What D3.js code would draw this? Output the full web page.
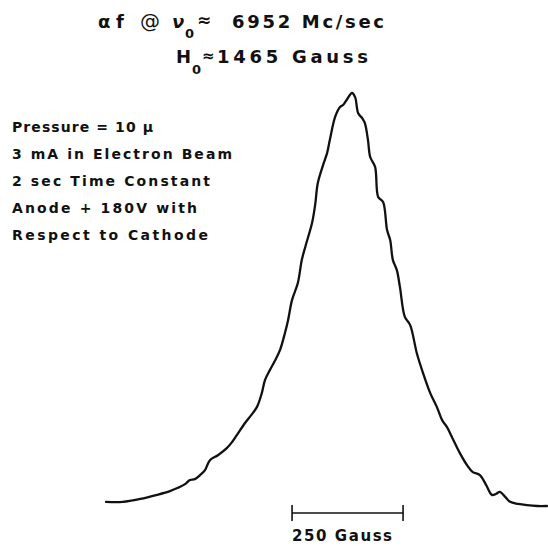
<!DOCTYPE html>
<html>
<head>
<meta charset="utf-8">
<script src="https://cdn.jsdelivr.net/npm/d3@7"></script>
<style>
  html, body { margin: 0; padding: 0; background: #fff; }
  svg { display: block; }
  text { font-family: "DejaVu Sans", sans-serif; fill: #111; }
</style>
</head>
<body>
<div id="chart"></div>
<script>
// ---- data ----
const fieldGauss = [911, 949, 988, 1026, 1055, 1073, 1089, 1100, 1111, 1123, 1134, 1145, 1163, 1183, 1195, 1206,
  1224, 1238, 1251, 1262, 1269, 1280, 1292, 1303, 1314, 1321, 1330, 1343, 1352, 1361, 1375, 1382, 1388, 1400,
  1409, 1415, 1427, 1438, 1445, 1454, 1465, 1472, 1479, 1488, 1494, 1501, 1506, 1517, 1524, 1535, 1544, 1551,
  1557, 1566, 1573, 1584, 1596, 1611, 1625, 1641, 1656, 1668, 1679, 1690, 1708, 1724, 1737, 1753, 1767, 1780,
  1789, 1798, 1810, 1821, 1839, 1859, 1882, 1904];
const signal = [1.0, 1.0, 1.7, 2.7, 3.6, 4.4, 5.3, 6.3, 6.5, 7.5, 8.7, 11.1, 12.3, 14.0, 15.5, 17.2,
  20.1, 22.0, 24.0, 27.4, 30.5, 32.9, 35.3, 37.8, 41.9, 45.0, 49.9, 54.0, 59.6, 63.2, 68.5, 72.9, 78.2, 82.6,
  85.5, 88.6, 94.2, 96.6, 97.1, 98.5, 100, 99.0, 95.1, 93.9, 92.7, 88.6, 84.5, 82.1, 74.8, 73.6, 66.8, 64.4,
  59.6, 57.1, 53.0, 45.8, 43.8, 37.0, 32.2, 27.4, 24.0, 20.8, 19.1, 16.7, 12.8, 9.9, 8.2, 7.5, 5.1, 2.7,
  2.9, 3.4, 2.2, 1.0, 0.5, 0.2, 0, 0];

const titleLine1 = ["α", "f", "@", "ν", "0", "≈", "6952 Mc/sec"];
const titleLine2 = ["H", "0", "≈", "1465 Gauss"];
const conditions = ["Pressure = 10 μ", "3 mA in Electron Beam", "2 sec Time Constant",
  "Anode + 180V with", "Respect to Cathode"];
const scaleBarGauss = [1330, 1580];
const scaleBarLabel = "250 Gauss";

// ---- drawing ----
const W = 548, H = 546;
const svg = d3.select("#chart").append("svg").attr("width", W).attr("height", H);

const x = d3.scaleLinear().domain([1215, 1715]).range([241, 463]);
const y = d3.scaleLinear().domain([0, 100]).range([506, 93]);

const pts = fieldGauss.map((g, i) => [g, signal[i]]);
svg.append("path")
  .datum(pts)
  .attr("fill", "none")
  .attr("stroke", "#111")
  .attr("stroke-width", 2.3)
  .attr("stroke-linejoin", "round")
  .attr("stroke-linecap", "round")
  .attr("d", d3.line().x(d => x(d[0])).y(d => y(d[1])).curve(d3.curveCatmullRom.alpha(0.5)));

// title line 1
const t1x = [98, 116, 140, 172, 185, 197, 232];
const t1 = svg.append("g").attr("font-weight", "bold").attr("font-size", 18);
titleLine1.forEach((s, i) => {
  const el = t1.append("text").text(s).attr("x", t1x[i]).attr("y", 28);
  if (i === 4) el.attr("font-size", 13).attr("y", 38);
  if (i === 2) el.attr("font-size", 20).attr("font-weight", "normal");
  if (i === 3) el.attr("font-style", "italic");
  if (i === 5) el.attr("font-size", 17).attr("y", 26);
  if (i === 6) el.attr("textLength", 152).attr("lengthAdjust", "spacing");
});
// title line 2
const t2x = [176, 192, 202, 217];
const t2 = svg.append("g").attr("font-weight", "bold").attr("font-size", 18);
titleLine2.forEach((s, i) => {
  const el = t2.append("text").text(s).attr("x", t2x[i]).attr("y", 63);
  if (i === 1) el.attr("font-size", 13).attr("y", 74);
  if (i === 2) el.attr("font-size", 15).attr("y", 61);
  if (i === 3) el.attr("textLength", 151).attr("lengthAdjust", "spacing");
});

// conditions
const condLen = [141, 220, 198, 185, 196];
svg.append("g").attr("font-weight", "bold").attr("font-size", 14)
  .selectAll("text").data(conditions).join("text")
  .attr("x", 12)
  .attr("y", (d, i) => 132 + i * 27)
  .attr("textLength", (d, i) => condLen[i])
  .attr("lengthAdjust", "spacing")
  .text(d => d);

// scale bar
const sb = svg.append("g").attr("stroke", "#111").attr("stroke-width", 1.6);
sb.append("line").attr("x1", x(scaleBarGauss[0])).attr("x2", x(scaleBarGauss[1])).attr("y1", 513).attr("y2", 513);
scaleBarGauss.forEach(g => sb.append("line").attr("x1", x(g)).attr("x2", x(g)).attr("y1", 505).attr("y2", 521));
svg.append("text").attr("x", x(scaleBarGauss[0])).attr("y", 541)
  .attr("font-weight", "bold").attr("font-size", 15)
  .attr("textLength", 100).attr("lengthAdjust", "spacing")
  .text(scaleBarLabel);
</script>
</body>
</html>
